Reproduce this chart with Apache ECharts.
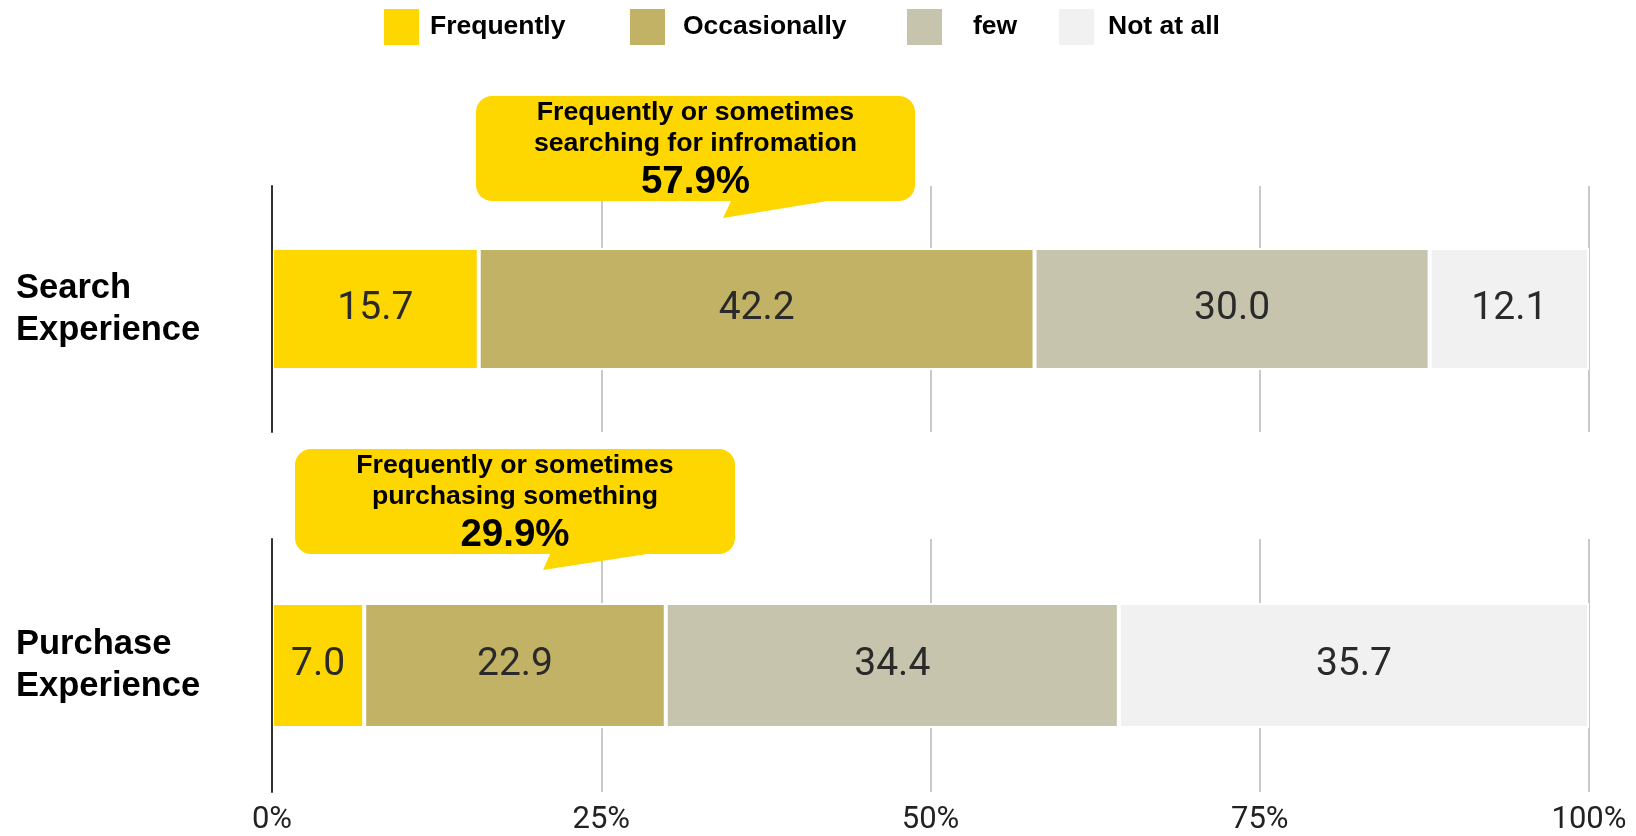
<!DOCTYPE html>
<html>
<head>
<meta charset="utf-8">
<title>Search and Purchase Experience</title>
<script src="https://cdn.jsdelivr.net/npm/echarts@6/dist/echarts.min.js"></script>
<style>
  html, body { margin: 0; padding: 0; background: #ffffff; }
  #chart { width: 1636px; height: 836px; }
</style>
</head>
<body>
<div id="chart"></div>
<script>
// ---- data ----
const categories = ['Search Experience', 'Purchase Experience'];
const seriesNames = ['Frequently', 'Occasionally', 'few', 'Not at all'];
const frequently = [15.7, 7.0];
const occasionally = [42.2, 22.9];
const few = [30.0, 34.4];
const notAtAll = [12.1, 35.7];
const xTicks = [0, 25, 50, 75, 100];
const calloutTexts = [
  ['Frequently or sometimes', 'searching for infromation'],
  ['Frequently or sometimes', 'purchasing something']
];

// ---- styles ----
const colors = ['#FFD700', '#C1B266', '#C6C4AC', '#F1F1F1'];
const boldFont = '"Liberation Sans", Arial, sans-serif';
const numFont = 'Roboto, "Noto Sans", sans-serif';
const values = [frequently, occasionally, few, notAtAll];

const gridBoxes = [
  { left: 272, right: 47, top: 186, height: 246, barWidth: 122 },
  { left: 272, right: 47, top: 539, height: 253, barWidth: 125 }
];

const grids = gridBoxes.map(g => ({ left: g.left, right: g.right, top: g.top, height: g.height }));

const xAxes = gridBoxes.map((g, i) => ({
  type: 'value',
  gridIndex: i,
  min: xTicks[0],
  max: xTicks[xTicks.length - 1],
  interval: xTicks[1] - xTicks[0],
  axisLine: { show: false },
  axisTick: { show: false },
  splitLine: { show: true, lineStyle: { color: '#c9c9c9', width: 2 } },
  axisLabel: {
    show: i === 1,
    margin: 13,
    formatter: v => v + '%',
    fontFamily: numFont,
    fontSize: 31,
    color: '#222'
  }
}));

const yAxes = gridBoxes.map((g, i) => ({
  type: 'category',
  gridIndex: i,
  data: [categories[i]],
  axisTick: { show: false },
  axisLine: { show: true, lineStyle: { color: '#333', width: 2 } },
  z: 5,
  axisLabel: {
    show: true,
    align: 'left',
    margin: 256,
    formatter: s => s.replace(' ', '\n'),
    fontFamily: boldFont,
    fontWeight: 'bold',
    fontSize: 34.5,
    lineHeight: 42,
    color: '#000'
  }
}));

const series = [];
gridBoxes.forEach((g, gi) => {
  seriesNames.forEach((name, k) => {
    series.push({
      type: 'bar',
      name: name,
      stack: 'total' + gi,
      xAxisIndex: gi,
      yAxisIndex: gi,
      barWidth: g.barWidth,
      data: [values[k][gi]],
      itemStyle: { color: colors[k], borderColor: '#ffffff', borderWidth: 2 },
      label: {
        show: true,
        position: 'inside',
        formatter: p => p.value.toFixed(1),
        fontFamily: numFont,
        fontSize: 39,
        color: '#2a2a2a'
      },
      emphasis: { disabled: true }
    });
  });
});

// Legend: one component per entry so each can be placed freely
const legendSpots = [
  { left: 384, gap: 6 },
  { left: 630, gap: 13 },
  { left: 907, gap: 26 },
  { left: 1059, gap: 9 }
];
const legends = seriesNames.map((name, k) => ({
  data: [name],
  left: legendSpots[k].left,
  top: 9,
  padding: 0,
  itemWidth: 35,
  itemHeight: 36,
  icon: 'rect',
  selectedMode: false,
  itemStyle: { borderWidth: 0 },
  textStyle: {
    fontFamily: boldFont,
    fontWeight: 'bold',
    fontSize: 26.5,
    color: '#000',
    padding: [0, 0, 0, legendSpots[k].gap]
  }
}));

// Speech-bubble callouts with the share of "Frequently" + "Occasionally"
const calloutBoxes = [
  { x: 476, y: 96, w: 439, h: 105, tail: [[732, 199], [723, 218], [840, 199]] },
  { x: 295, y: 449, w: 440, h: 105, tail: [[551, 552], [543, 570], [660, 552]] }
];
const graphics = [];
calloutBoxes.forEach((b, i) => {
  const share = (frequently[i] + occasionally[i]).toFixed(1) + '%';
  const cx = b.x + b.w / 2;
  graphics.push({
    type: 'rect',
    shape: { x: b.x, y: b.y, width: b.w, height: b.h, r: 16 },
    style: { fill: '#FFD700' },
    z: 100
  });
  graphics.push({
    type: 'polygon',
    shape: { points: b.tail },
    style: { fill: '#FFD700' },
    z: 100
  });
  calloutTexts[i].forEach((line, li) => {
    graphics.push({
      type: 'text',
      z: 101,
      style: {
        text: line,
        x: cx,
        y: b.y + 17 + li * 31,
        align: 'center',
        verticalAlign: 'middle',
        fontFamily: boldFont,
        fontWeight: 'bold',
        fontSize: 26.7,
        fill: '#000'
      }
    });
  });
  graphics.push({
    type: 'text',
    z: 101,
    style: {
      text: share,
      x: cx,
      y: b.y + 86,
      align: 'center',
      verticalAlign: 'middle',
      fontFamily: boldFont,
      fontWeight: 'bold',
      fontSize: 38.5,
      fill: '#000'
    }
  });
});

const chart = echarts.init(document.getElementById('chart'), null, { renderer: 'canvas' });
chart.setOption({
  animation: false,
  backgroundColor: '#ffffff',
  legend: legends,
  grid: grids,
  xAxis: xAxes,
  yAxis: yAxes,
  series: series,
  graphic: graphics
});
</script>
</body>
</html>
